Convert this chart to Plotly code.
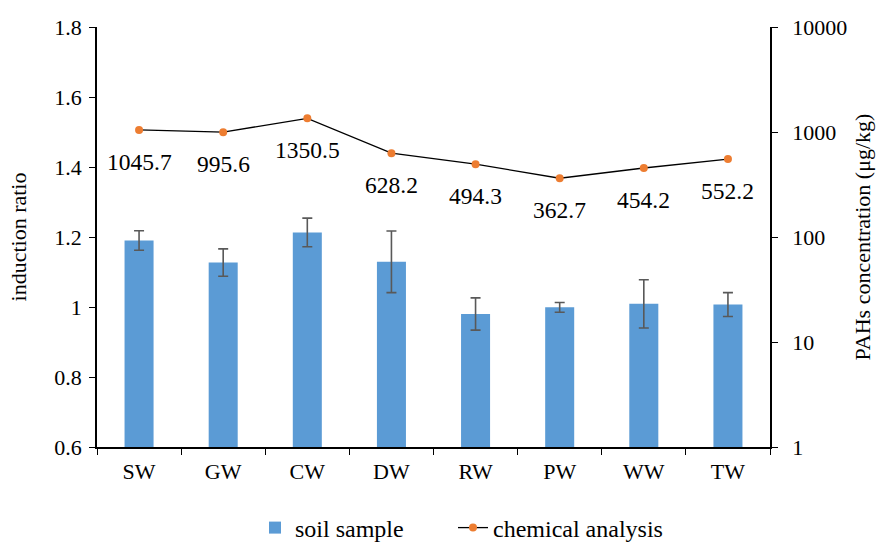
import math
import plotly.graph_objects as go

categories = ["SW", "GW", "CW", "DW", "RW", "PW", "WW", "TW"]
induction_ratio = [1.19, 1.127, 1.213, 1.129, 0.98, 0.999, 1.009, 1.007]
induction_err = [0.028, 0.039, 0.041, 0.088, 0.046, 0.014, 0.069, 0.034]
pahs_conc = [1045.7, 995.6, 1350.5, 628.2, 494.3, 362.7, 454.2, 552.2]
pahs_labels = ["1045.7", "995.6", "1350.5", "628.2", "494.3", "362.7", "454.2", "552.2"]
left_ticks = [0.6, 0.8, 1.0, 1.2, 1.4, 1.6, 1.8]
left_tick_labels = ["0.6", "0.8", "1", "1.2", "1.4", "1.6", "1.8"]
right_tick_vals = [1, 10, 100, 1000, 10000]
right_tick_labels = ["1", "10", "100", "1000", "10000"]

FONT = "'Liberation Serif', 'Times New Roman', serif"
BLUE = "#5B9BD5"
ORANGE = "#ED7D31"

fig = go.Figure()
fig.add_trace(go.Bar(
    x=categories, y=induction_ratio, name="soil sample",
    legend="legend",
    marker=dict(color=BLUE, line=dict(width=0)),
    error_y=dict(type="data", array=induction_err, visible=True,
                 color="#595959", thickness=1.6, width=5),
    yaxis="y",
))
fig.add_trace(go.Scatter(
    x=categories, y=pahs_conc, name="chemical analysis",
    legend="legend2",
    mode="lines+markers",
    line=dict(color="black", width=1.3),
    marker=dict(color=ORANGE, size=8),
    yaxis="y2",
))

for c, v, t in zip(categories, pahs_conc, pahs_labels):
    fig.add_annotation(x=c, y=math.log10(v), xref="x", yref="y2", text=t,
                       showarrow=False, yshift=-32,
                       font=dict(family=FONT, size=23.5, color="black"))

axis_common = dict(showgrid=False, zeroline=False, showline=True,
                   linecolor="black", linewidth=1.5, ticks="outside",
                   ticklen=6, tickwidth=1.3, tickcolor="black",
                   tickfont=dict(family=FONT, size=22, color="black"))

legend_common = dict(orientation="h", yanchor="middle", yref="container",
                     xref="container", xanchor="left", y=14 / 542,
                     font=dict(family=FONT, size=24), bgcolor="rgba(0,0,0,0)")

fig.update_layout(
    width=877, height=542,
    margin=dict(l=97, r=107, t=27, b=95, autoexpand=False),
    paper_bgcolor="white", plot_bgcolor="white",
    font=dict(family=FONT, size=22, color="black"),
    bargap=0.655,
    showlegend=True,
    legend=dict(**legend_common, x=255 / 877),
    legend2=dict(**legend_common, x=453 / 877),
    xaxis=dict(**axis_common, type="category", tickson="boundaries",
               range=[-0.5, 7.5], ticklabelstandoff=4),
    yaxis=dict(**axis_common, range=[0.6, 1.8], tickvals=left_ticks,
               ticktext=left_tick_labels, ticklabelstandoff=3,
               title=dict(text="induction ratio", standoff=22,
                          font=dict(family=FONT, size=22))),
    yaxis2=dict(**axis_common, overlaying="y", side="right", type="log",
                range=[0, 4], tickvals=right_tick_vals, ticktext=right_tick_labels,
                ticklabelstandoff=10,
                title=dict(text="PAHs concentration (μg/kg)", standoff=8,
                           font=dict(family=FONT, size=22))),
)

fig.write_html("out.html")
